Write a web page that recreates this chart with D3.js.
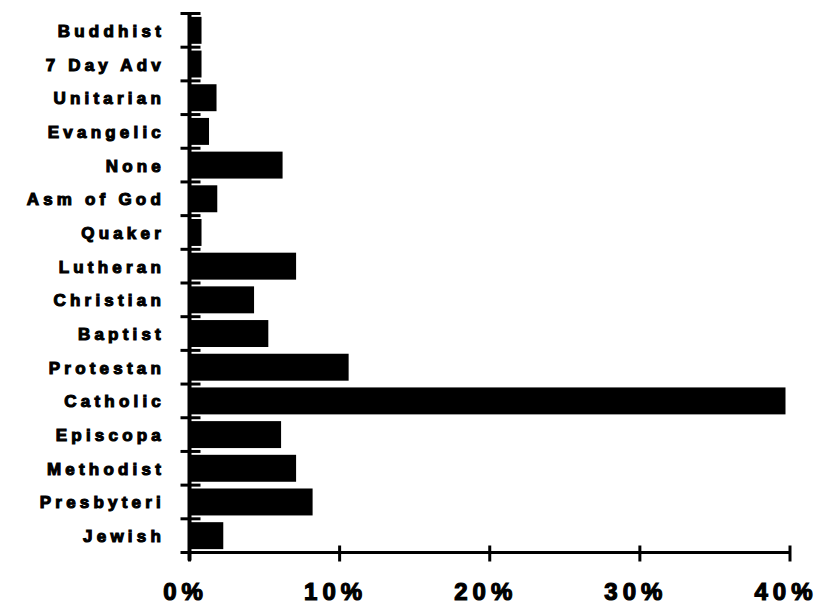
<!DOCTYPE html>
<html>
<head>
<meta charset="utf-8">
<script src="https://cdn.jsdelivr.net/npm/d3@7"></script>
<style>
  html, body { margin: 0; padding: 0; background: #fff; }
  svg { display: block; }
</style>
</head>
<body>
<svg id="chart" width="819" height="608"></svg>
<script>
// Categories listed top to bottom
const categories = ["Buddhist", "7 Day Adv", "Unitarian", "Evangelic", "None", "Asm of God", "Quaker", "Lutheran", "Christian", "Baptist", "Protestan", "Catholic", "Episcopa", "Methodist", "Presbyteri", "Jewish"];
// Share of respondents (%)
const values = [0.8, 0.8, 1.8, 1.3, 6.2, 1.85, 0.8, 7.1, 4.3, 5.25, 10.6, 39.7, 6.1, 7.1, 8.2, 2.25];
const xTicks = [0, 10, 20, 30, 40];
const xTickLabels = ["0%", "10%", "20%", "30%", "40%"];

const svg = d3.select("#chart");
const x0 = 189.5, x1 = 790, yTop = 13.5, yBot = 552.5;

const x = d3.scaleLinear().domain([0, 40]).range([x0, x1]);
const y = d3.scaleBand().domain(categories).range([yTop, yBot]).paddingInner(0.2).paddingOuter(0.1);

const data = categories.map((c, i) => ({ c, v: values[i] }));

// bars
svg.append("g").selectAll("rect").data(data).join("rect")
  .attr("x", x(0))
  .attr("y", d => y(d.c))
  .attr("width", d => x(d.v) - x(0))
  .attr("height", y.bandwidth())
  .attr("fill", "#000");

// y axis line and ticks (at category boundaries)
const g = svg.append("g").attr("stroke", "#000");
g.append("line").attr("x1", x0).attr("x2", x0).attr("y1", yTop).attr("y2", yBot + 8).attr("stroke-width", 4);
const boundaries = d3.range(categories.length + 1).map(i => yTop + i * (yBot - yTop) / categories.length);
g.selectAll("line.yt").data(boundaries).join("line").attr("class", "yt")
  .attr("x1", x0 - 9).attr("x2", x0 + 11)
  .attr("y1", d => d).attr("y2", d => d)
  .attr("stroke-width", 3);

// x axis line and ticks
g.append("line").attr("x1", x0).attr("x2", x1).attr("y1", yBot).attr("y2", yBot).attr("stroke-width", 3);
g.selectAll("line.xt").data(xTicks).join("line").attr("class", "xt")
  .attr("x1", d => x(d)).attr("x2", d => x(d))
  .attr("y1", yBot - 7).attr("y2", yBot + 9)
  .attr("stroke-width", 3);

// category labels
svg.append("g").selectAll("text").data(categories).join("text")
  .attr("x", 165)
  .attr("y", d => y(d) + y.bandwidth() / 2 + 1)
  .attr("text-anchor", "end")
  .attr("dominant-baseline", "central")
  .attr("font-family", "'Liberation Sans', Arial, sans-serif")
  .attr("font-weight", "bold")
  .attr("font-size", 17)
  .attr("letter-spacing", "4.2px")
  .attr("stroke", "#000").attr("stroke-width", 1.1)
  .text(d => d);

// x tick labels
svg.append("g").selectAll("text").data(xTicks).join("text")
  .attr("x", d => x(d) - 4)
  .attr("y", 591)
  .attr("text-anchor", "middle")
  .attr("dominant-baseline", "central")
  .attr("font-family", "'Liberation Sans', Arial, sans-serif")
  .attr("font-weight", "bold")
  .attr("font-size", 24)
  .attr("letter-spacing", "5px")
  .attr("stroke", "#000").attr("stroke-width", 1.2)
  .text((d, i) => xTickLabels[i]);
</script>
</body>
</html>
